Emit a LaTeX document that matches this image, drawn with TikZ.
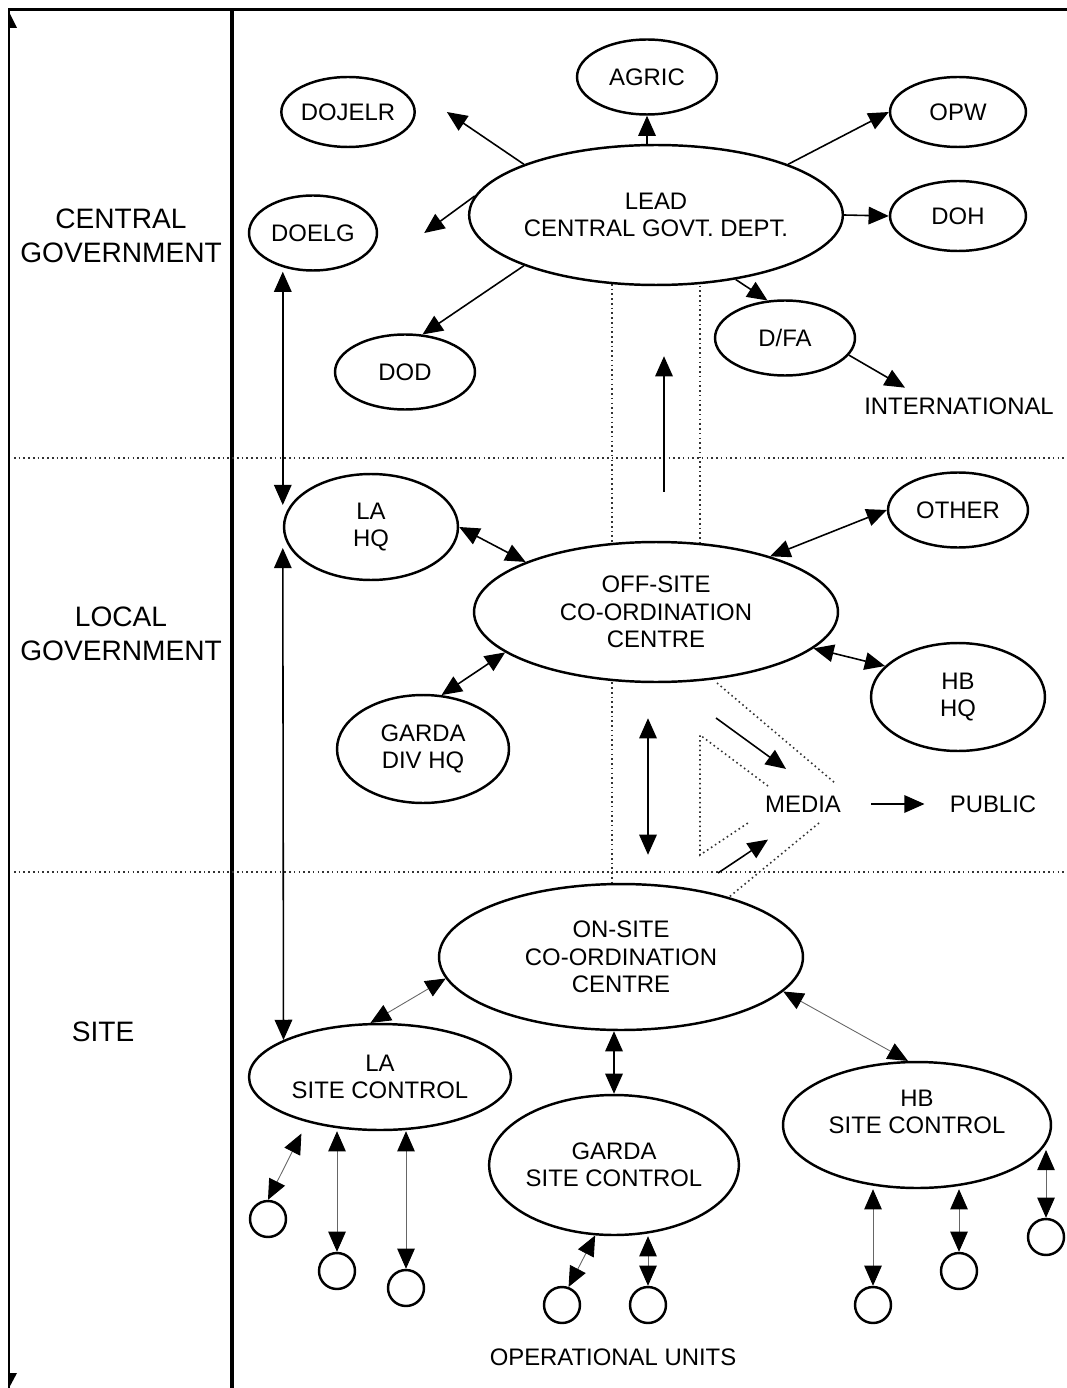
\documentclass[tikz,border=0pt]{standalone}
\usepackage{fontspec}
\setmainfont{Liberation Sans}
\usetikzlibrary{shapes.geometric,arrows.meta}

\begin{document}
\begin{tikzpicture}[x=0.02cm, y=-0.02cm, >={Triangle[length=11.5pt,width=10pt]}]
\tikzstyle{every node}=[font=\fontsize{13.6}{15.6}\selectfont, align=center, inner sep=0pt];
\tikzstyle{office}=[draw, ellipse, line width=1.4pt, fill=white];
\tikzstyle{unit}=[draw, circle, line width=1.4pt, fill=white, minimum size=0.72cm];
\tikzstyle{level}=[font=\fontsize{16}{19.3}\selectfont];
\tikzstyle{link}=[line width=0.9pt];
\tikzstyle{feed}=[draw=black!60, line width=0.5pt, {Triangle[length=11.5pt,width=10pt,color=black]}-{Triangle[length=11.5pt,width=10pt,color=black]}];
\tikzstyle{zone}=[dash pattern=on 0.9pt off 1.8pt, line width=0.9pt, black!80];
\useasboundingbox (0,0) rectangle (1067,1388);

% frame and levels
\draw[line width=1.7pt] (8,10) -- (1067,10);
\draw[line width=1.1pt] (9,10) -- (9,1388);
\fill (9,12) -- (17,28) -- (9,28) -- cycle;
\fill (9,1373) -- (17,1373) -- (9,1388) -- cycle;
\draw[line width=2.3pt] (232,10) -- (232,1388);
\draw[zone] (14,458) -- (1067,458);
\draw[zone] (14,872) -- (1067,872);

% dotted channels
\draw[zone] (612,284) -- (612,886);
\draw[zone] (700,281) -- (700,546);
\draw[zone] (717,683) -- (835,783);
\draw[zone] (819,823) -- (717,907);
\draw[zone] (768,786) -- (700,735) -- (700,855) -- (748,823);

\node[level] (central) at (121,236) {CENTRAL\\GOVERNMENT};
\node[level] (local) at (121,634) {LOCAL\\GOVERNMENT};
\node[level] (site) at (103,1032) {SITE};

% central government
\node[office, minimum width=2.8cm, minimum height=1.5cm] (agric) at (647,77) {AGRIC};
\node[office, minimum width=2.56cm, minimum height=1.4cm] (dojelr) at (348,112) {DOJELR};
\node[office, minimum width=2.72cm, minimum height=1.4cm] (opw) at (958,112) {OPW};
\node[office, minimum width=7.32cm, minimum height=2.8cm] (lead) at (656,215) {LEAD\\CENTRAL GOVT. DEPT.};
\node[office, minimum width=2.72cm, minimum height=1.4cm] (doh) at (958,216) {DOH};
\node[office, minimum width=2.56cm, minimum height=1.5cm] (doelg) at (313,233) {DOELG};
\node[office, minimum width=2.8cm, minimum height=1.5cm] (dfa) at (785,338) {D/FA};
\node[office, minimum width=2.8cm, minimum height=1.5cm] (dod) at (405,372) {DOD};
\node (intl) at (959,406) {INTERNATIONAL};

% local government
\node[office, minimum width=3.48cm, minimum height=2.12cm] (lahq) at (371,527) {LA\\HQ};
\node[office, minimum width=2.8cm, minimum height=1.5cm] (other) at (958,510) {OTHER};
\node[office, minimum width=7.28cm, minimum height=2.8cm] (offsite) at (656,612) {OFF-SITE\\CO-ORDINATION\\CENTRE};
\node[office, minimum width=3.48cm, minimum height=2.16cm] (hbhq) at (958,697) {HB\\HQ};
\node[office, minimum width=3.44cm, minimum height=2.16cm] (gardahq) at (423,749) {GARDA\\DIV HQ};
\node (media) at (803,804) {MEDIA};
\node (public) at (993,804) {PUBLIC};

% site
\node[office, minimum width=7.28cm, minimum height=2.92cm] (onsite) at (621,957) {ON-SITE\\CO-ORDINATION\\CENTRE};
\node[office, minimum width=5.24cm, minimum height=2.12cm] (lasite) at (380,1077) {LA\\SITE CONTROL};
\node[office, minimum width=5.36cm, minimum height=2.52cm, label={[yshift=0.26cm]center:HB\\SITE CONTROL}] (hbsite) at (917,1125) {};
\node[office, minimum width=4.16cm, minimum height=2.8cm] (gardasite) at (614,1165) {GARDA\\SITE CONTROL};
\node[unit] (la1) at (268,1219) {};
\node[unit] (la2) at (337,1271) {};
\node[unit] (la3) at (406,1288) {};
\node[unit] (ga1) at (562,1305) {};
\node[unit] (ga2) at (648,1305) {};
\node[unit] (hb1) at (873,1305) {};
\node[unit] (hb2) at (959,1271) {};
\node[unit] (hb3) at (1046,1237) {};
\node (opunits) at (613,1357) {OPERATIONAL UNITS};

\draw[link,->] (lead.159) -- ([xshift=0.62cm]dojelr.east);
\draw[link,->] (agric.south |- lead.north) -- (agric.south);
\draw[link,->] (lead.21) -- (opw.west);
\draw[link,->] (lead.east) -- (doh.west);
\draw[link,->] (lead.174) -- ([xshift=0.92cm]doelg.east);
\draw[link,->] (lead.201) -- (dod.65);
\draw[link,->] (lead.-39) -- (dfa.115);
\draw[link,->] (dfa.-15) -- ([shift={(-1.08cm,0.19cm)}]intl.north);
\draw[link,<->] (doelg.south -| lahq.west) -- ([yshift=0.44cm]lahq.west);
\draw[link,<->] ([yshift=-0.42cm]lahq.west) -- (lasite.159);
\draw[link,<->] (lahq.east) -- (offsite.159);
\draw[link,<->] (other.west) -- (offsite.26);
\draw[link,<->] (offsite.-13) -- (hbhq.157);
\draw[link,<->] (gardahq.71) -- (offsite.195);
\draw[link,->] ([shift={(0.16cm,0.98cm)}]offsite.north) -- ([shift={(0.16cm,-1.4cm)}]lead.south);
\draw[link,<->] ([shift={(-0.16cm,-0.7cm)}]offsite.south) -- ([shift={(0.54cm,0.56cm)}]onsite.north);

% to the media
\coordinate (offout) at (716,718);
\coordinate (onout) at (718,873);
\draw[link,->] (offout) -- ([shift={(-0.34cm,0.53cm)}]media.north);
\draw[link,->] (onout) -- ([shift={(-0.7cm,-0.54cm)}]media.south);
\draw[link,->, shorten <=0.6cm, shorten >=0.5cm] (media.east) -- (public.west);

% site links
\draw[feed] (onsite.187) -- (lasite.100);
\draw[link,<->] (onsite.south -| gardasite.north) -- (gardasite.north);
\draw[feed] (onsite.-12) -- (hbsite.98);
\draw[feed] (la1.north) -- ([yshift=-0.26cm]lasite.209);
\draw[feed] (la2.north) -- (la2.north |- lasite.south);
\draw[feed] (la3.north) -- (la3.north |- lasite.south);
\draw[feed] (ga1.70) -- (gardasite.255);
\draw[feed] (ga2.north) -- (ga2.north |- gardasite.south);
\draw[feed] (hb1.north) -- (hb1.north |- hbsite.south);
\draw[feed] (hb2.north) -- (hb2.north |- hbsite.south);
\draw[feed, shorten >=0.5cm] (hb3.north) -- (hb3.north |- hbsite.east);
\end{tikzpicture}
\end{document}
